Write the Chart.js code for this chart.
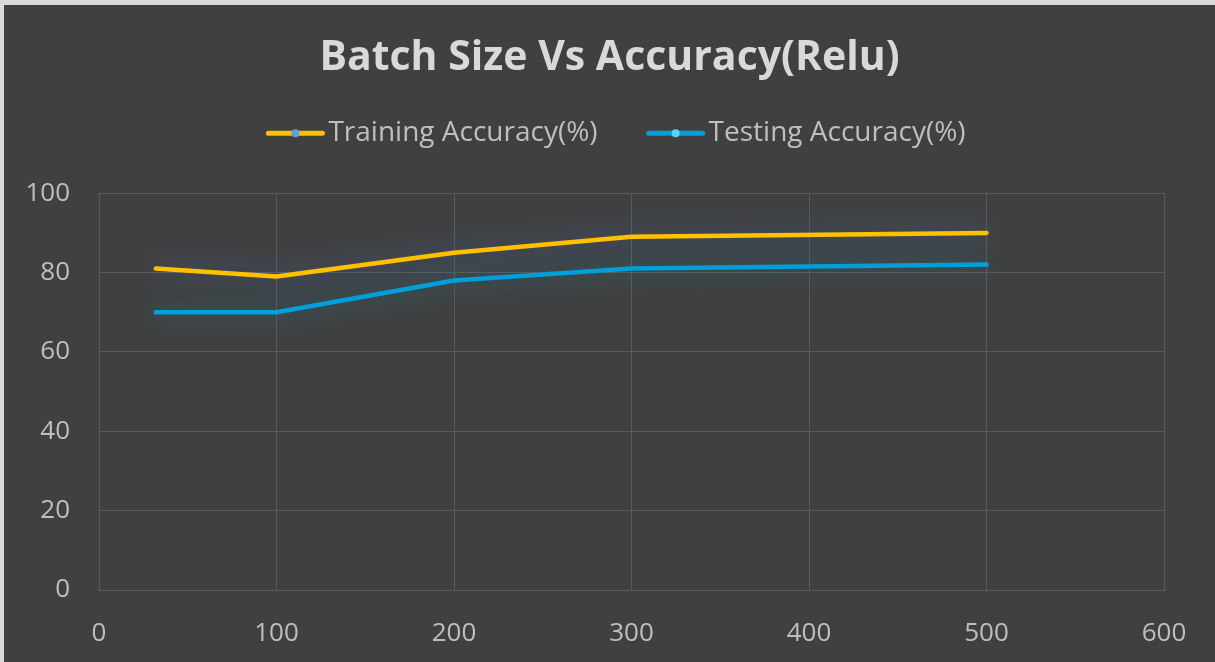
<!DOCTYPE html>
<html>
<head>
<meta charset="utf-8">
<script src="https://cdn.jsdelivr.net/npm/chart.js@4"></script>
<style>
  html, body { margin: 0; padding: 0; background: #d9d9d9; }
  #wrap { position: absolute; left: 4px; top: 5px; width: 1211px; height: 657px; background: #404040; }
</style>
</head>
<body>
<div id="wrap"><canvas id="accuracy-chart"></canvas></div>
<script>
/*==== data ====*/
const batchSizes = [32, 100, 200, 300, 500];
const trainingAcc = [81, 79, 85, 89, 90];
const testingAcc = [70, 70, 78, 81, 82];

const seriesNames = ['Training Accuracy(%)', 'Testing Accuracy(%)'];
const seriesColors = ['#ffc000', '#00a0dc'];
const dotColors = ['#5ba3e0', '#5fd0f7'];
const glowColors = ['rgba(70,115,200,0.75)', 'rgba(30,150,185,0.65)'];

function toPoints(ys) {
    return batchSizes.map(function (x, i) { return { x: x, y: ys[i] }; });
}

const gridColor = '#5a5a5a';
const tickColor = '#bfbfbf';
const fontFamily = "'Open Sans', sans-serif";

// soft glow behind each line
const glowPlugin = {
    id: 'glow',
    beforeDatasetDraw(chart, args) {
        const ds = chart.data.datasets[args.index];
        chart.ctx.save();
        chart.ctx.shadowColor = ds.glowColor;
        chart.ctx.shadowBlur = 26;
    },
    afterDatasetDraw(chart) {
        chart.ctx.restore();
    }
};

// legend marker: line with a dot, drawn just left of the text
const legendMarker = {
    id: 'legendMarker',
    afterDraw(chart) {
        const legend = chart.legend;
        if (!legend || !legend.legendHitBoxes) return;
        const opts = legend.options.labels;
        const ctx = chart.ctx;
        legend.legendHitBoxes.forEach(function (box, i) {
            const textX = box.left + opts.boxWidth + opts.font.size / 2;
            const y = box.top + box.height / 2;
            ctx.save();
            ctx.strokeStyle = seriesColors[i];
            ctx.lineWidth = 5;
            ctx.lineCap = 'round';
            ctx.beginPath();
            ctx.moveTo(textX - 60, y);
            ctx.lineTo(textX - 6, y);
            ctx.stroke();
            ctx.fillStyle = dotColors[i];
            ctx.beginPath();
            ctx.arc(textX - 33, y, 4, 0, Math.PI * 2);
            ctx.fill();
            ctx.restore();
        });
    }
};

const data_accuracy = {
    datasets: [
        {
            label: seriesNames[0],
            data: toPoints(trainingAcc),
            borderColor: seriesColors[0],
            backgroundColor: 'transparent',
            glowColor: glowColors[0],
            borderWidth: 4.5,
            pointRadius: 0,
            borderCapStyle: 'round',
            borderJoinStyle: 'round'
        },
        {
            label: seriesNames[1],
            data: toPoints(testingAcc),
            borderColor: seriesColors[1],
            backgroundColor: 'transparent',
            glowColor: glowColors[1],
            borderWidth: 4.5,
            pointRadius: 0,
            borderCapStyle: 'round',
            borderJoinStyle: 'round'
        }
    ]
};

const config_accuracy = {
    type: 'line',
    data: data_accuracy,
    options: {
        responsive: true,
        maintainAspectRatio: false,
        animation: false,
        layout: { padding: 0 },
        plugins: {
            title: {
                display: true,
                text: 'Batch Size Vs Accuracy(Relu)',
                color: '#d9d9d9',
                font: { family: fontFamily, size: 41, weight: 'bold' },
                padding: { top: 29, bottom: 0 }
            },
            legend: {
                display: true,
                labels: {
                    color: tickColor,
                    font: { family: fontFamily, size: 28 },
                    boxWidth: 61,
                    padding: 36,
                    generateLabels(chart) {
                        return Chart.defaults.plugins.legend.labels.generateLabels(chart).map(function (l) {
                            l.fillStyle = 'transparent';
                            l.strokeStyle = 'transparent';
                            l.lineWidth = 0;
                            return l;
                        });
                    }
                }
            },
            tooltip: { enabled: false }
        },
        scales: {
            x: {
                type: 'linear',
                position: 'bottom',
                min: 0,
                max: 600,
                ticks: { stepSize: 100, color: tickColor, font: { family: fontFamily, size: 26 }, padding: 28 },
                grid: { color: gridColor, drawTicks: false },
                border: { color: gridColor },
                afterFit(s) { s.height = 72; s.paddingLeft = 0; s.paddingRight = 51; }
            },
            gap: {
                type: 'linear',
                position: 'top',
                display: true,
                ticks: { display: false },
                grid: { display: false },
                border: { display: false },
                afterFit(s) { s.height = 36; s.paddingLeft = 0; s.paddingRight = 0; }
            },
            y: {
                min: 0,
                max: 100,
                ticks: { stepSize: 20, color: tickColor, font: { family: fontFamily, size: 26 }, padding: 29 },
                grid: { color: gridColor, drawTicks: false },
                border: { color: gridColor },
                afterFit(s) { s.width = 95; }
            }
        }
    },
    plugins: [glowPlugin, legendMarker]
};

/*===== render =====*/
var accuracyChart = new Chart(document.getElementById('accuracy-chart'), config_accuracy);
</script>
</body>
</html>
